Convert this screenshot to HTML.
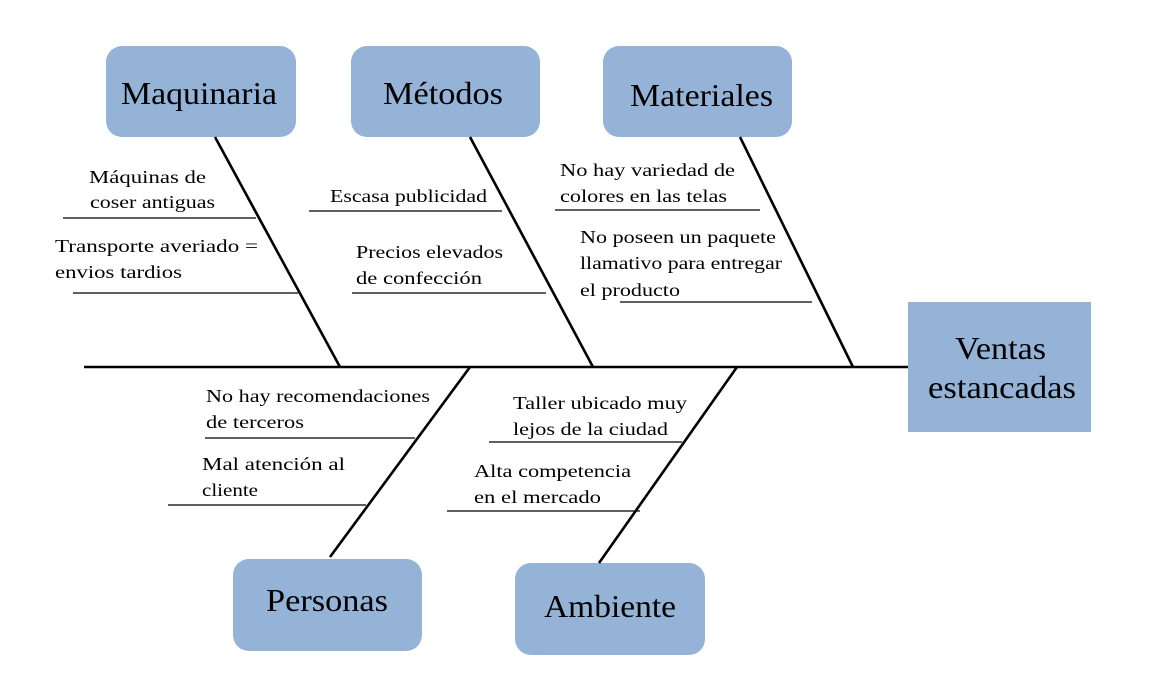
<!DOCTYPE html>
<html><head><meta charset="utf-8"><style>
html,body{margin:0;padding:0;background:#fff;}
svg{display:block;}
text{font-family:"Liberation Serif",serif;fill:#000;}
.s{font-size:18px;}
.b{font-size:32px;}
</style></head><body>
<svg width="1168" height="700" viewBox="0 0 1168 700">
<g fill="#95b3d7">
<rect x="106" y="46" width="190" height="91" rx="16"/>
<rect x="351" y="46" width="189" height="91" rx="16"/>
<rect x="603" y="46" width="189" height="91" rx="16"/>
<rect x="908" y="302" width="183" height="130"/>
<rect x="233" y="559" width="189" height="92" rx="16"/>
<rect x="515" y="563" width="190" height="92" rx="16"/>
</g>
<g stroke="#000" stroke-width="2.6" fill="none">
<line x1="84" y1="367" x2="908" y2="367"/>
<line x1="215" y1="137" x2="340" y2="367"/>
<line x1="470" y1="137" x2="593" y2="367"/>
<line x1="740" y1="137" x2="853" y2="367"/>
<line x1="470" y1="367" x2="330" y2="557"/>
<line x1="737" y1="367" x2="599" y2="563"/>
</g>
<g stroke="#000" stroke-width="1.3">
<line x1="63" y1="218" x2="256" y2="218"/>
<line x1="73" y1="293" x2="298" y2="293"/>
<line x1="309" y1="211" x2="502" y2="211"/>
<line x1="352" y1="293" x2="546" y2="293"/>
<line x1="555" y1="210" x2="760" y2="210"/>
<line x1="620" y1="302" x2="812" y2="302"/>
<line x1="205" y1="438" x2="415" y2="438"/>
<line x1="168" y1="505" x2="366" y2="505"/>
<line x1="489" y1="442" x2="682" y2="442"/>
<line x1="447" y1="511" x2="640" y2="511"/>
</g>
<g class="b" lengthAdjust="spacingAndGlyphs">
<text x="121" y="104" textLength="156" lengthAdjust="spacingAndGlyphs">Maquinaria</text>
<text x="383" y="104" textLength="120" lengthAdjust="spacingAndGlyphs">Métodos</text>
<text x="630" y="106" textLength="143" lengthAdjust="spacingAndGlyphs">Materiales</text>
<text x="955" y="359" textLength="91" lengthAdjust="spacingAndGlyphs">Ventas</text>
<text x="928" y="398" textLength="148" lengthAdjust="spacingAndGlyphs">estancadas</text>
<text x="266" y="611" textLength="122" lengthAdjust="spacingAndGlyphs">Personas</text>
<text x="544" y="617" textLength="132" lengthAdjust="spacingAndGlyphs">Ambiente</text>
</g>
<g class="s">
<text x="89" y="183" textLength="117" lengthAdjust="spacingAndGlyphs">Máquinas de</text>
<text x="90" y="208" textLength="125" lengthAdjust="spacingAndGlyphs">coser antiguas</text>
<text x="55" y="252" textLength="203" lengthAdjust="spacingAndGlyphs">Transporte averiado =</text>
<text x="55" y="278" textLength="127" lengthAdjust="spacingAndGlyphs">envios tardios</text>
<text x="330" y="202" textLength="157" lengthAdjust="spacingAndGlyphs">Escasa publicidad</text>
<text x="356" y="258" textLength="147" lengthAdjust="spacingAndGlyphs">Precios elevados</text>
<text x="356" y="284" textLength="126" lengthAdjust="spacingAndGlyphs">de confección</text>
<text x="560" y="176" textLength="175" lengthAdjust="spacingAndGlyphs">No hay variedad de</text>
<text x="560" y="202" textLength="167" lengthAdjust="spacingAndGlyphs">colores en las telas</text>
<text x="580" y="243" textLength="196" lengthAdjust="spacingAndGlyphs">No poseen un paquete</text>
<text x="580" y="269" textLength="202" lengthAdjust="spacingAndGlyphs">llamativo para entregar</text>
<text x="580" y="296" textLength="100" lengthAdjust="spacingAndGlyphs">el producto</text>
<text x="206" y="402" textLength="224" lengthAdjust="spacingAndGlyphs">No hay recomendaciones</text>
<text x="206" y="428" textLength="98" lengthAdjust="spacingAndGlyphs">de terceros</text>
<text x="202" y="470" textLength="143" lengthAdjust="spacingAndGlyphs">Mal atención al</text>
<text x="202" y="496" textLength="56" lengthAdjust="spacingAndGlyphs">cliente</text>
<text x="513" y="409" textLength="174" lengthAdjust="spacingAndGlyphs">Taller ubicado muy</text>
<text x="513" y="435" textLength="155" lengthAdjust="spacingAndGlyphs">lejos de la ciudad</text>
<text x="474" y="477" textLength="157" lengthAdjust="spacingAndGlyphs">Alta competencia</text>
<text x="474" y="503" textLength="127" lengthAdjust="spacingAndGlyphs">en el mercado</text>
</g>
</svg>
</body></html>
